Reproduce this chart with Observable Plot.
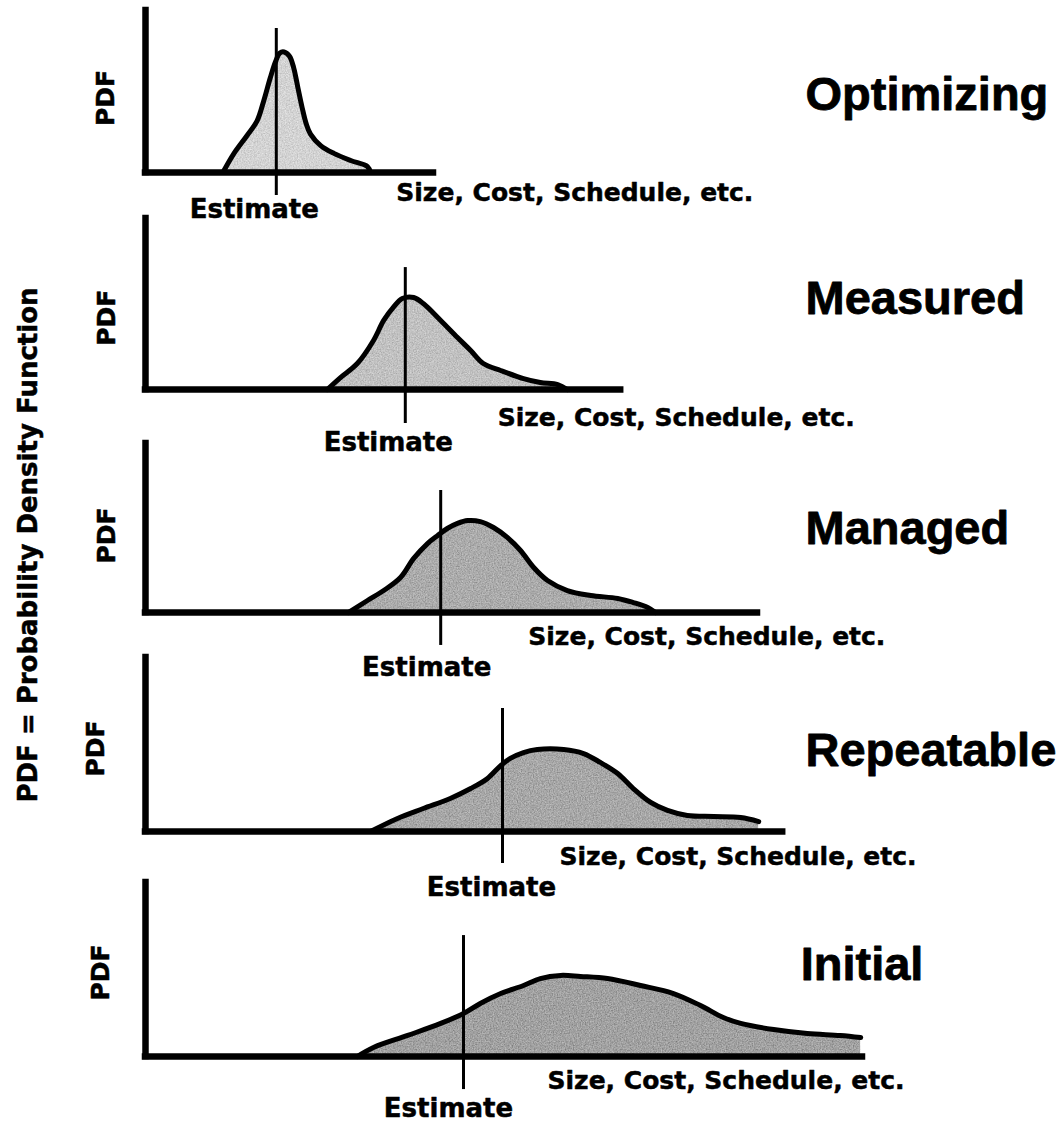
<!DOCTYPE html>
<html>
<head>
<meta charset="utf-8">
<script src="https://cdn.jsdelivr.net/npm/d3@7"></script>
<script src="https://cdn.jsdelivr.net/npm/@observablehq/plot@0.6"></script>
<style>
  html, body { margin: 0; padding: 0; background: #fff; overflow: hidden; }
  #chart { position: relative; width: 1059px; height: 1121px; }
  .panel { position: absolute; left: 0; }
  #side {
    position: absolute; left: 28px; top: 545px;
    transform: translate(-50%, -50%) rotate(-90deg);
    white-space: nowrap; font: bold 26px "DejaVu Sans"; color: #000;
    -webkit-text-stroke: 0.5px #000;
  }
</style>
</head>
<body>
<svg width="0" height="0" style="position:absolute">
  <defs>
    <filter id="grain" x="-5%" y="-5%" width="110%" height="110%">
      <feTurbulence type="fractalNoise" baseFrequency="0.75" numOctaves="2" seed="4" result="n"/>
      <feColorMatrix in="n" type="matrix" values="1 0 0 0 0  1 0 0 0 0  1 0 0 0 0  0 0 0 0 1" result="g"/>
      <feComposite in="SourceGraphic" in2="g" operator="arithmetic" k1="0" k2="1" k3="0.45" k4="-0.22" result="c"/>
      <feComposite in="c" in2="SourceGraphic" operator="in"/>
    </filter>
  </defs>
</svg>
<div id="chart"></div>
<script>
// ---------- data (x in size/cost units 0-120, y in relative PDF height 0-1) ----------
const stages = ["Optimizing", "Measured", "Managed", "Repeatable", "Initial"];

const optimizingPDF = [[12.9,0],[14.7,0.115],[16.9,0.227],[18.6,0.319],[19.7,0.442],[20.8,0.585],[21.7,0.687],[22.4,0.738],[23.1,0.744],[24.0,0.718],[24.7,0.646],[25.4,0.523],[26.1,0.401],[26.8,0.299],[27.5,0.237],[29.2,0.166],[31.4,0.118],[34.2,0.074],[37.0,0.037],[37.5,0]];
const measuredPDF = [[30.3,0],[32.5,0.070],[35.3,0.152],[38.0,0.287],[39.7,0.404],[41.3,0.480],[42.8,0.532],[44.7,0.538],[46.3,0.503],[49.2,0.404],[52.0,0.304],[54.2,0.228],[56.3,0.152],[59.2,0.111],[63.0,0.064],[65.8,0.041],[68.7,0.029],[70.3,0]];
const managedPDF = [[33.8,0],[37.0,0.071],[39.7,0.130],[42.5,0.207],[44.7,0.320],[47.0,0.408],[48.7,0.456],[50.3,0.497],[52.0,0.527],[53.7,0.544],[55.8,0.538],[58.0,0.503],[60.3,0.444],[62.5,0.367],[64.7,0.266],[67.0,0.189],[70.3,0.130],[74.2,0.101],[78.7,0.083],[81.3,0.059],[83.7,0.030],[85.0,0]];
const repeatablePDF = [[37.5,0],[42.0,0.075],[46.3,0.132],[50.8,0.190],[54.2,0.247],[57.0,0.305],[59.2,0.379],[60.8,0.420],[63.0,0.454],[65.3,0.471],[69.7,0.471],[73.0,0.448],[75.8,0.397],[78.7,0.333],[81.3,0.247],[84.2,0.167],[87.0,0.121],[90.3,0.092],[94.7,0.086],[99.2,0.080],[102.2,0.057]];
const initialPDF = [[35.3,0],[38.0,0.052],[43.7,0.121],[49.2,0.190],[53.0,0.247],[55.8,0.305],[59.2,0.362],[63.0,0.408],[65.8,0.448],[69.2,0.466],[72.5,0.460],[77.0,0.448],[82.5,0.408],[88.0,0.362],[92.5,0.293],[96.3,0.224],[99.2,0.190],[104.7,0.155],[110.3,0.132],[115.8,0.121],[119.2,0.109]];

const estimates = [21.8, 43.3, 49.2, 59.5, 53.0];
const axisEnds = [48.0, 79.2, 102.0, 106.2, 119.5];

const xLabel = "Size, Cost, Schedule, etc.";
const yLabel = "PDF";
const estimateLabel = "Estimate";
const sideLabel = "PDF = Probability Density Function";

// ---------- styling / layout ----------
const shades = ["#d2d2d2", "#c0c0c0", "#aaaaaa", "#a6a6a6", "#a0a0a0"];
const layout = [
  {top: 10,  h: 162, est: [-0.142, 0.889], estDx: -22, estDy: 45, labX: 41.8, labDy: 28, titleX: 110,   titleY: 0.383, pdfDx: -40, pdfY: 0.46},
  {top: 218, h: 171, est: [-0.199, 0.713], estDx: -17, estDy: 61, labX: 58.7, labDy: 36, titleX: 110,   titleY: 0.439, pdfDx: -39, pdfY: 0.42},
  {top: 443, h: 169, est: [-0.195, 0.722], estDx: -14, estDy: 63, labX: 63.8, labDy: 32, titleX: 110,   titleY: 0.408, pdfDx: -39, pdfY: 0.456},
  {top: 657, h: 174, est: [-0.184, 0.707], estDx: -11, estDy: 64, labX: 69.0, labDy: 33, titleX: 110,   titleY: 0.374, pdfDx: -50, pdfY: 0.477},
  {top: 882, h: 174, est: [-0.190, 0.695], estDx: -15, estDy: 60, labX: 67.0, labDy: 32, titleX: 109.2, titleY: 0.437, pdfDx: -45, pdfY: 0.483}
];
const curves = [optimizingPDF, measuredPDF, managedPDF, repeatablePDF, initialPDF];

const W = 1059, ML = 145, MR = 194, MT = 10, MB = 75;
const labelFont = "DejaVu Sans";
const titleFont = "Liberation Sans";
const labelText = {fontWeight: "bold", fontFamily: labelFont, fill: "#000", stroke: "#000", strokeWidth: 0.5};

const chart = document.getElementById("chart");

stages.forEach((stage, i) => {
  const L = layout[i];
  const pdf = curves[i];
  const plot = Plot.plot({
    width: W,
    height: MT + L.h + MB,
    marginLeft: ML, marginRight: MR, marginTop: MT, marginBottom: MB,
    x: {domain: [0, 120], axis: null},
    y: {domain: [0, 1], axis: null},
    style: "background: transparent; overflow: visible;",
    marks: [
      Plot.areaY(pdf, {x: d => d[0], y: d => d[1], fill: shades[i], curve: "catmull-rom"}),
      Plot.line(pdf, {x: d => d[0], y: d => d[1], stroke: "#000", strokeWidth: 5, curve: "catmull-rom", strokeLinejoin: "round", strokeLinecap: "round"}),
      Plot.ruleX([estimates[i]], {y1: L.est[0], y2: L.est[1], stroke: "#000", strokeWidth: 3}),
      Plot.ruleY([0], {x1: 0, x2: axisEnds[i], stroke: "#000", strokeWidth: 6.5, strokeLinecap: "square"}),
      Plot.ruleX([0], {y1: 0, y2: 1, stroke: "#000", strokeWidth: 6.5, strokeLinecap: "square"}),
      Plot.text([estimateLabel], {x: estimates[i], y: 0, text: d => d, dx: L.estDx, dy: L.estDy,
        lineAnchor: "bottom", textAnchor: "middle", fontSize: 26, ...labelText}),
      Plot.text([xLabel], {x: L.labX, y: 0, text: d => d, dy: L.labDy,
        lineAnchor: "bottom", textAnchor: "start", fontSize: 25, ...labelText}),
      Plot.text([yLabel], {frameAnchor: "left", y: L.pdfY, text: d => d, dx: L.pdfDx, rotate: -90,
        lineAnchor: "middle", textAnchor: "middle", fontSize: 25, ...labelText}),
      Plot.text([stage], {x: L.titleX, y: L.titleY, text: d => d,
        lineAnchor: "bottom", textAnchor: "start", fontSize: 47, fontWeight: "bold", fontFamily: titleFont,
        fill: "#000", stroke: "#000", strokeWidth: 0.8})
    ]
  });
  d3.select(plot).selectAll('g[aria-label="area"] path').attr("filter", "url(#grain)");
  const div = document.createElement("div");
  div.className = "panel";
  div.style.top = (L.top - MT) + "px";
  div.appendChild(plot);
  chart.appendChild(div);
});

const side = document.createElement("div");
side.id = "side";
side.textContent = sideLabel;
chart.appendChild(side);
</script>
</body>
</html>
